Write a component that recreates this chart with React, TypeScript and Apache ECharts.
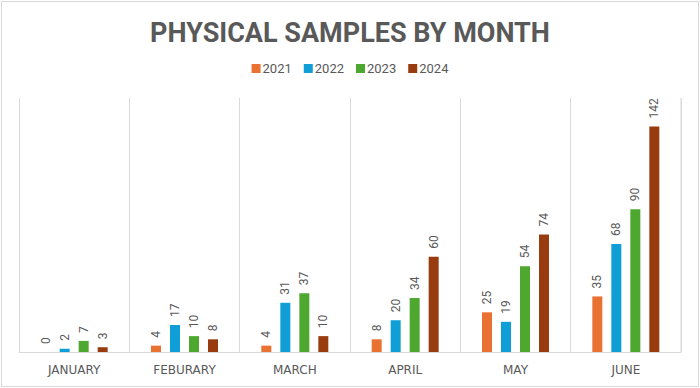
import React, { useEffect, useRef } from "react";
import * as echarts from "echarts";

const months = ["JANUARY", "FEBURARY", "MARCH", "APRIL", "MAY", "JUNE"];
const years = ["2021", "2022", "2023", "2024"];
const v2021 = [0, 4, 4, 8, 25, 35];
const v2022 = [2, 17, 31, 20, 19, 68];
const v2023 = [7, 10, 37, 34, 54, 90];
const v2024 = [3, 8, 10, 60, 74, 142];
const colors = ["#E97132", "#0F9ED5", "#4EA72E", "#983B0E"];

export default function App() {
  const ref = useRef<HTMLDivElement>(null);
  useEffect(() => {
    document.body.style.margin = "0";
    const chart = echarts.init(ref.current!, null, { renderer: "svg" });
    const seriesData = [v2021, v2022, v2023, v2024];
    chart.setOption({
      animation: false,
      backgroundColor: "#ffffff",
      title: {
        text: "PHYSICAL SAMPLES BY MONTH",
        left: "center",
        top: 14,
        textStyle: {
          fontFamily: "Roboto",
          fontWeight: "bold",
          fontSize: 27,
          color: "#595959",
        },
      },
      legend: {
        top: 57,
        left: "center",
        itemWidth: 9,
        itemHeight: 9,
        itemGap: 12,
        icon: "rect",
        textStyle: { fontFamily: "Roboto", fontSize: 13, color: "#595959", padding: [0, 0, 0, -3] },
        data: years,
      },
      grid: { left: 19, right: 19, top: 98, bottom: 36 },
      xAxis: {
        type: "category",
        data: months,
        axisTick: { show: false },
        axisLine: { lineStyle: { color: "#D9D9D9", width: 1 } },
        splitLine: { show: true, lineStyle: { color: "#D9D9D9", width: 1 } },
        axisLabel: {
          fontFamily: "DejaVu Sans",
          fontSize: 12,
          color: "#595959",
          margin: 12,
        },
      },
      yAxis: {
        type: "value",
        min: 0,
        max: 160,
        show: false,
        splitLine: { show: false },
      },
      series: years.map((y, i) => ({
        name: y,
        type: "bar",
        data: seriesData[i],
        barWidth: 10,
        barGap: "90%",
        barCategoryGap: "39%",
        itemStyle: { color: colors[i] },
        label: {
          show: true,
          position: "top",
          rotate: 90,
          align: "left",
          verticalAlign: "middle",
          distance: 8,
          fontFamily: "Roboto",
          fontSize: 12,
          color: "#595959",
        },
      })),
      graphic: [
        {
          type: "rect",
          shape: { x: 1.5, y: 1.5, width: 697, height: 385 },
          style: { fill: "none", stroke: "#D9D9D9", lineWidth: 1 },
          silent: true,
        },
        {
          type: "line",
          shape: { x1: 681, y1: 98, x2: 681, y2: 352 },
          style: { stroke: "#D9D9D9", lineWidth: 1 },
          silent: true,
        },
      ],
    });
    return () => chart.dispose();
  }, []);
  return <div ref={ref} style={{ width: 700, height: 388 }} />;
}
